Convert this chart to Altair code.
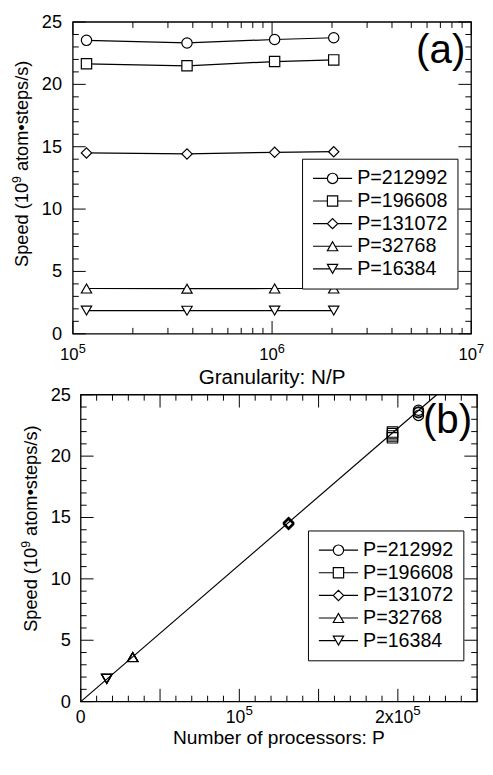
import altair as alt
import pandas as pd

# ---------------- data ----------------
P_values = [212992, 196608, 131072, 32768, 16384]
P_labels = ["P=212992", "P=196608", "P=131072", "P=32768", "P=16384"]
granularity = [1.17e5, 3.74e5, 1.03e6, 2.04e6]
speed_212992 = [23.53, 23.32, 23.60, 23.74]
speed_196608 = [21.65, 21.49, 21.83, 21.96]
speed_131072 = [14.50, 14.42, 14.55, 14.60]
speed_32768 = [3.63, 3.62, 3.63, 3.63]
speed_16384 = [1.86, 1.85, 1.86, 1.86]
speeds = [speed_212992, speed_196608, speed_131072, speed_32768, speed_16384]

ideal_P = [0, 224500]
ideal_speed = [0, 25.0]

# tick values / labels
y_major = [0, 5, 10, 15, 20, 25]
y_minor = [v for v in range(0, 26) if v % 5 != 0]
y_labels = ["0", "5", "10", "15", "20", "25"]
xa_major = [1e5, 1e6, 1e7]
xa_minor = [m * 10 ** e for e in (5, 6) for m in range(2, 10)]
xa_base = ["10", "10", "10"]
xa_exp = ["5", "6", "7"]
xb_major = [0, 50000, 100000, 150000, 200000, 250000]
xb_minor = [v for v in range(0, 250001, 10000) if v % 50000 != 0]
xb_label_vals = [0, 100000, 200000]
xb_base = ["0", "10", "2x10"]
xb_exp = ["", "5", "5"]
ytitle_parts = ["Speed (10", "9", " atom\u2022steps/s)"]
xa_title = "Granularity: N/P"
xb_title = "Number of processors: P"

rows_a, rows_b = [], []
for lab, p, sp in zip(P_labels, P_values, speeds):
    for g, s in zip(granularity, sp):
        rows_a.append({"x": g, "speed": s, "series": lab})
        rows_b.append({"x": p, "speed": s, "series": lab})
df_a = pd.DataFrame(rows_a)
df_b = pd.DataFrame(rows_b)
df_ideal = pd.DataFrame({"x": ideal_P, "speed": ideal_speed})

FONT = "Liberation Sans"
plain_shapes = ["circle", "square", "diamond", "triangle-up", "triangle-down"]
legend_paths = [
    "M-3.8,0L-1,0M1,0L3.8,0M1,0A1,1 0 1,1 -1,0A1,1 0 1,1 1,0Z",
    "M-3.8,0L-1,0M1,0L3.8,0M-1,-1L1,-1L1,1L-1,1Z",
    "M-3.8,0L-1,0M1,0L3.8,0M-1,0L0,-1L1,0L0,1Z",
    "M-3.8,0L-0.5,0M0.5,0L3.8,0M0,-0.87L1,0.87L-1,0.87Z",
    "M-3.8,0L-0.5,0M0.5,0L3.8,0M0,0.87L1,-0.87L-1,-0.87Z",
]

# Arial / Liberation Sans advance widths (em) used to place split labels
AW = {"S": .667, "p": .556, "e": .556, "d": .556, " ": .278, "(": .333, ")": .333,
      "1": .556, "0": .556, "9": .556, "a": .556, "t": .278, "o": .556, "m": .833,
      "\u2022": .35, "s": .5, "/": .278, "2": .556, "x": .5, "5": .556}


def tw(s, size):
    return sum(AW.get(c, .556) for c in s) * size


# ---------------- panel geometry (pixels inside the one plot area) ----------------
A = dict(x0=0, x1=405, y0=0, y1=317)      # panel (a) frame
B = dict(x0=8, x1=411, y0=379, y1=691)    # panel (b) frame
TOTAL_W, TOTAL_H = 411, 691

ys_a = alt.Scale(domain=[0, 25], range=[A["y1"], A["y0"]], nice=False, zero=False)
ys_b = alt.Scale(domain=[0, 25], range=[B["y1"], B["y0"]], nice=False, zero=False)
xs_a = alt.Scale(type="log", domain=[1e5, 1e7], range=[A["x0"], A["x1"]], nice=False)
xs_b = alt.Scale(domain=[0, 250000], range=[B["x0"], B["x1"]], nice=False, zero=False)


def X(s):
    return alt.X("x:Q", scale=s, axis=None)


def Y(s):
    return alt.Y("speed:Q", scale=s, axis=None)


def frame(G):
    return alt.Chart(pd.DataFrame({"t": [0]})).mark_rect(
        fill="transparent", stroke="black", strokeWidth=1.3).encode(
        x=alt.value(G["x0"]), x2=alt.value(G["x1"]), y=alt.value(G["y0"]), y2=alt.value(G["y1"]))


def tick_layers(G, xs, ys, x_major, x_minor):
    layers = []
    for vals, L in ((x_major, 13), (x_minor, 6)):
        base = alt.Chart(pd.DataFrame({"x": vals})).mark_rule(color="black", strokeWidth=1)
        layers.append(base.encode(x=X(xs), y=alt.value(G["y1"]), y2=alt.value(G["y1"] - L)))
        layers.append(base.encode(x=X(xs), y=alt.value(G["y0"]), y2=alt.value(G["y0"] + L)))
    for vals, L in ((y_major, 13), (y_minor, 6)):
        base = alt.Chart(pd.DataFrame({"speed": vals})).mark_rule(color="black", strokeWidth=1)
        layers.append(base.encode(y=Y(ys), x=alt.value(G["x0"]), x2=alt.value(G["x0"] + L)))
        layers.append(base.encode(y=Y(ys), x=alt.value(G["x1"]), x2=alt.value(G["x1"] - L)))
    return layers


def ylabel_layer(G, ys, pad):
    df = pd.DataFrame({"speed": y_major, "lab": y_labels})
    return alt.Chart(df).mark_text(font=FONT, fontSize=18.5, align="right", baseline="middle",
                                   color="black").encode(
        y=Y(ys), x=alt.value(G["x0"] - pad), text="lab:N")


def xlabel_layers(G, xs, vals, bases, exps, bsize, esize, base_dy, exp_rise):
    layers = []
    yb = G["y1"] + base_dy
    for v, b, e in zip(vals, bases, exps):
        df = pd.DataFrame({"x": [v], "b": [b], "e": [e]})
        if e:
            dx = (tw(b, bsize) - tw(e, esize)) / 2
            layers.append(alt.Chart(df).mark_text(font=FONT, fontSize=bsize, align="right",
                                                  baseline="alphabetic", dx=dx, color="black").encode(
                x=X(xs), y=alt.value(yb), text="b:N"))
            layers.append(alt.Chart(df).mark_text(font=FONT, fontSize=esize, align="left",
                                                  baseline="alphabetic", dx=dx, color="black").encode(
                x=X(xs), y=alt.value(yb - exp_rise), text="e:N"))
        else:
            layers.append(alt.Chart(df).mark_text(font=FONT, fontSize=bsize, align="center",
                                                  baseline="alphabetic", color="black").encode(
                x=X(xs), y=alt.value(yb), text="b:N"))
    return layers


def ytitle_layers(xb, y0, size=18.5, esize=12.5, rise=7):
    layers = []
    y = y0
    for i, part in enumerate(ytitle_parts):
        fs = esize if i == 1 else size
        xx = xb - rise if i == 1 else xb
        lead = len(part) - len(part.lstrip(" "))
        y -= tw(" " * lead, fs)            # leading blanks are collapsed in SVG
        txt = part.lstrip(" ")
        layers.append(alt.Chart(pd.DataFrame({"t": [txt]})).mark_text(
            font=FONT, fontSize=fs, angle=270, align="left", baseline="alphabetic",
            color="black").encode(text="t:N", x=alt.value(xx), y=alt.value(y)))
        y -= tw(txt, fs)
    return layers


def text_layer(s, x, y, size, align="center"):
    return alt.Chart(pd.DataFrame({"t": [s]})).mark_text(
        font=FONT, fontSize=size, align=align, baseline="alphabetic", color="black").encode(
        text="t:N", x=alt.value(x), y=alt.value(y))


def legend_layer(data, xs, ys, lx, ly):
    return alt.Chart(data).mark_point(opacity=0, filled=False, color="black", size=110).encode(
        x=X(xs), y=Y(ys),
        shape=alt.Shape("series:N", scale=alt.Scale(domain=P_labels, range=legend_paths),
                        legend=alt.Legend(title=None, orient="none", legendX=lx, legendY=ly,
                                          fillColor="white", strokeColor="black", padding=10,
                                          labelFont=FONT, labelFontSize=20, labelColor="black",
                                          symbolSize=110, symbolStrokeColor="black",
                                          symbolFillColor="white", symbolStrokeWidth=1.2,
                                          symbolOpacity=1, symbolOffset=11, labelOffset=15,
                                          rowPadding=3, cornerRadius=0)),
    )


def points(data, xs, ys, filled):
    kw = dict(filled=True, fill="white") if filled else dict(filled=False)
    return alt.Chart(data).mark_point(stroke="black", strokeWidth=1.2, size=110, opacity=1, **kw).encode(
        x=X(xs), y=Y(ys),
        shape=alt.Shape("series:N", scale=alt.Scale(domain=P_labels, range=plain_shapes), legend=None))


# ---------------- panel (a) ----------------
layers_a = [
    alt.Chart(df_a).mark_line(color="black", strokeWidth=1.2).encode(x=X(xs_a), y=Y(ys_a), detail="series:N"),
    points(df_a, xs_a, ys_a, True),
    legend_layer(df_a, xs_a, ys_a, 233, 139),
    frame(A),
    *tick_layers(A, xs_a, ys_a, xa_major, xa_minor),
    ylabel_layer(A, ys_a, 11),
    *xlabel_layers(A, xs_a, xa_major, xa_base, xa_exp, 17, 13, 27, 7),
    *ytitle_layers(A["x0"] - 46, 249),
    text_layer(xa_title, (A["x0"] + A["x1"]) / 2, A["y1"] + 51, 21),
    text_layer("(a)", A["x1"] - 6, 42, 41, align="right"),
]

# ---------------- panel (b) ----------------
layers_b = [
    alt.Chart(df_ideal).mark_line(color="black", strokeWidth=1.2).encode(x=X(xs_b), y=Y(ys_b)),
    points(df_b, xs_b, ys_b, False),
    legend_layer(df_b, xs_b, ys_b, 239, 517),
    frame(B),
    *tick_layers(B, xs_b, ys_b, xb_major, xb_minor),
    ylabel_layer(B, ys_b, 10),
    *xlabel_layers(B, xs_b, xb_label_vals, xb_base, xb_exp, 18, 13.5, 22, 8),
    *ytitle_layers(B["x0"] - 45, 620),
    text_layer(xb_title, (B["x0"] + B["x1"]) / 2, B["y1"] + 43, 19.5),
    text_layer("(b)", B["x1"] - 5, B["y0"] + 39, 41, align="right"),
]

chart = alt.layer(*layers_a, *layers_b).resolve_scale(
    x="independent", y="independent", shape="independent"
).properties(
    width=TOTAL_W, height=TOTAL_H,
    autosize=alt.AutoSizeParams(type="none"),
    padding={"left": 66, "top": 8, "right": 8, "bottom": 46},
).configure_view(strokeWidth=0, stroke="transparent")

chart.save("out.html", embed_options={"renderer": "svg", "actions": False})
